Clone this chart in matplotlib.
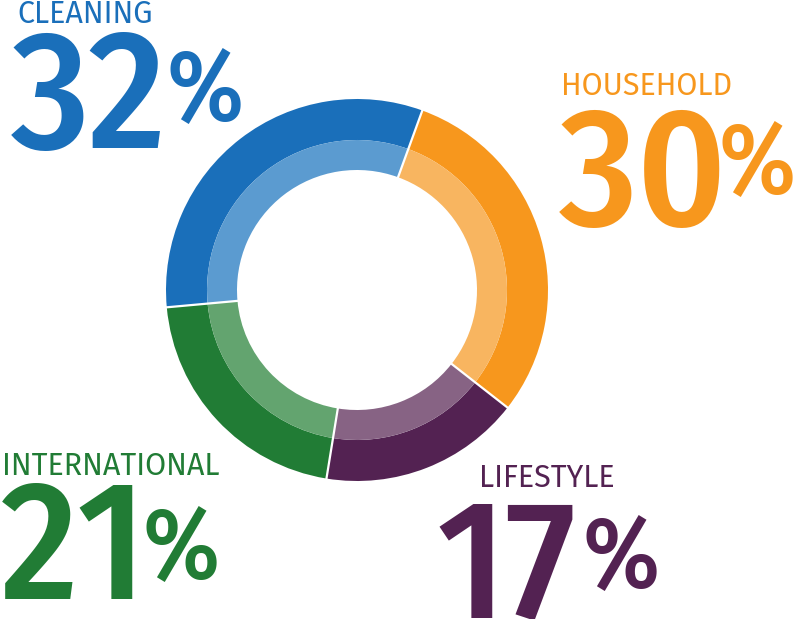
import matplotlib
matplotlib.use("Agg")
import matplotlib.pyplot as plt
import numpy as np

categories = ["HOUSEHOLD", "LIFESTYLE", "INTERNATIONAL", "CLEANING"]
values = [30, 17, 21, 32]
dark_colors = ["#f7971d", "#532252", "#217c35", "#1a6fba"]
light_colors = ["#f8b560", "#876384", "#63a46f", "#5b9bd0"]

W, H = 795, 619
fig = plt.figure(figsize=(W / 100, H / 100), dpi=100)
ax = fig.add_axes([0, 0, 1, 1])

cx, cy = 357, H - 290
R, R_mid, R_in = 191, 150, 120
start = 70
ax.pie(values, colors=dark_colors, radius=R, center=(cx, cy), startangle=start,
       counterclock=False, wedgeprops=dict(width=R - R_mid, linewidth=0), frame=True)
ax.pie(values, colors=light_colors, radius=R_mid, center=(cx, cy), startangle=start,
       counterclock=False, wedgeprops=dict(width=R_mid - R_in, linewidth=0), frame=True)
# white separators between segments
bounds = np.deg2rad(start - 360 * np.cumsum(values) / np.sum(values))
for t in bounds:
    ax.plot([cx + (R_in - 1) * np.cos(t), cx + (R + 1) * np.cos(t)],
            [cy + (R_in - 1) * np.sin(t), cy + (R + 1) * np.sin(t)],
            color="white", lw=1.6, solid_capstyle="butt")
ax.set_xlim(0, W)
ax.set_ylim(0, H)
ax.set_aspect("equal")
ax.axis("off")

label_font = ["Fira Sans", "DejaVu Sans"]
num_font = ["Fira Sans Condensed", "Fira Sans", "DejaVu Sans"]
layout = {
    "CLEANING": ((17, 23), (11, 148), (167, 120)),
    "HOUSEHOLD": ((561, 95), (559, 225), (719, 193)),
    "INTERNATIONAL": ((2, 475), (1, 599), (142, 578)),
    "LIFESTYLE": ((479, 487), (436, 617), (582, 587)),
}
for cat, val, col in zip(categories, values, dark_colors):
    (lx, ly), (nx, ny), (px, py) = layout[cat]
    ax.text(lx, H - ly, cat, color=col, fontsize=22, fontfamily=label_font,
            fontweight="normal", ha="left", va="baseline")
    ax.text(nx, H - ny, str(val), color=col, fontsize=122, fontfamily=num_font,
            fontweight="medium", ha="left", va="baseline")
    ax.text(px, H - py, "%", color=col, fontsize=72, fontfamily=num_font,
            fontweight="medium", ha="left", va="baseline")

fig.savefig("out.png", dpi=100, facecolor="white")
